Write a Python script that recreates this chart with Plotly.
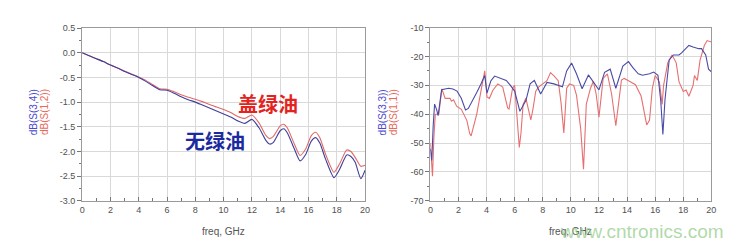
import plotly.graph_objects as go

# ---------------- Left chart: insertion loss ----------------
freq_L = [0, 0.5, 1, 1.5, 2, 2.5, 3, 3.5, 4, 4.5, 5, 5.5, 6, 6.5, 7, 7.5, 8, 8.5, 9, 9.5,
          10, 10.5, 11, 11.5, 12, 12.5, 13, 13.25, 13.5, 14, 14.25, 14.5, 15, 15.4, 15.8,
          16.2, 16.5, 16.8, 17.2, 17.8, 18.2, 18.7, 19, 19.3, 19.7, 20]
s12_red = [0, -0.06, -0.12, -0.18, -0.25, -0.31, -0.37, -0.43, -0.49, -0.56, -0.65, -0.73,
           -0.74, -0.79, -0.85, -0.9, -0.94, -0.99, -1.05, -1.1, -1.15, -1.21, -1.29, -1.33,
           -1.26, -1.42, -1.68, -1.74, -1.70, -1.48, -1.45, -1.52, -1.85, -2.08, -1.95,
           -1.68, -1.61, -1.72, -2.05, -2.42, -2.25, -1.97, -2.0, -2.12, -2.3, -2.28]
s34_blue = [0, -0.06, -0.12, -0.18, -0.25, -0.31, -0.38, -0.44, -0.5, -0.58, -0.67, -0.75,
            -0.76, -0.82, -0.89, -0.95, -1.0, -1.06, -1.12, -1.18, -1.24, -1.3, -1.38, -1.43,
            -1.35, -1.52, -1.78, -1.85, -1.82, -1.58, -1.54, -1.62, -1.95, -2.19, -2.06,
            -1.79, -1.72, -1.83, -2.15, -2.53, -2.36, -2.07, -2.1, -2.22, -2.55, -2.38]

# ---------------- Right chart: return loss ----------------
freq_s33 = [0, 0.1, 0.2, 0.3, 0.45, 0.55, 0.8, 1.0, 1.3, 1.6, 1.9, 2.2, 2.5, 2.7, 3.0, 3.3,
            3.6, 3.87, 4.03, 4.3, 4.57, 5.0, 5.4, 5.7, 6.0, 6.37, 6.8, 7.1, 7.4, 7.85, 8.3,
            8.8, 9.1, 9.4, 9.7, 10.05, 10.4, 10.8, 11.25, 11.6, 12.0, 12.4, 12.8, 13.2, 13.7,
            14.1, 14.4, 14.8, 15.1, 15.6, 15.9, 16.2, 16.4, 16.55, 16.7, 16.85, 17.0, 17.3,
            17.7, 17.9, 18.4, 18.7, 19.1, 19.3, 19.6, 19.8, 20]
s33_blue = [-52, -56, -44, -36.5, -38.5, -40.5, -31.5, -31.2, -31, -31.3, -32, -34.5, -38.5,
            -38, -35.5, -32.5, -29.5, -26.6, -32.7, -28.5, -26.8, -27.5, -28.3, -30, -32, -39,
            -35.3, -29.5, -28.3, -33, -29, -29.5, -30, -30.5, -25, -22.3, -26, -31.2, -26.4,
            -28.8, -31.6, -25.5, -24.4, -31, -23.3, -21.8, -23.8, -26, -26.5, -26, -25.4,
            -26.5, -35.5, -47, -35, -28, -21.2, -19.5, -19.5, -18.7, -16.2, -16.7, -17.3,
            -17.3, -19.5, -24.4, -25.3]

freq_s11 = [0, 0.1, 0.15, 0.25, 0.35, 0.6, 0.82, 1.05, 1.4, 1.5, 1.65, 1.87, 2.2, 2.6, 2.8,
            2.9, 3.3, 3.63, 3.87, 4.03, 4.2, 4.45, 4.8, 5.15, 5.5, 5.6, 5.75, 5.85, 6.0, 6.2,
            6.33, 6.45, 6.6, 6.8, 7.0, 7.15, 7.3, 7.5, 7.7, 7.97, 8.3, 8.55, 8.8, 9.1, 9.3,
            9.5, 9.7, 9.9, 10.2, 10.4, 10.7, 10.9, 11.1, 11.4, 11.6, 11.8, 12.0, 12.3, 12.6,
            12.9, 13.2, 13.6, 13.8, 14.2, 14.6, 15.0, 15.1, 15.4, 15.6, 15.8, 16.0, 16.3,
            16.5, 16.6, 16.9, 17.2, 17.5, 17.7, 18.0, 18.2, 18.4, 18.7, 18.8, 19.0, 19.2,
            19.5, 19.7, 20]
s11_red = [-50, -58, -61.5, -48, -40, -40, -31.2, -34.5, -34.5, -35.5, -35, -37.2, -38.3,
           -42.2, -46.7, -47.5, -40, -31.2, -25, -34, -34.5, -31.7, -29.5, -30.6, -37.8,
           -38.2, -34.5, -31, -30, -42, -51.5, -46.5, -36.6, -34.5, -38.3, -42, -38.3, -32,
           -30.6, -29.5, -28.4, -25.6, -26.7, -28.4, -36, -46.5, -31, -29.5, -30, -33.4, -45,
           -59, -36.5, -31, -28.6, -33, -41, -27.6, -26, -33, -44, -28.2, -27.6, -28.7,
           -29.8, -33.7, -36.5, -43.7, -42, -31, -26.6, -28.8, -36.6, -30, -22.2, -19.5,
           -22.2, -28.8, -32.1, -31.6, -33.8, -30, -26.6, -28.3, -21.2, -16.2, -14.5, -15]

x_ticks = [0, 2, 4, 6, 8, 10, 12, 14, 16, 18, 20]
yL_ticks = [0.5, 0.0, -0.5, -1.0, -1.5, -2.0, -2.5, -3.0]
yR_ticks = [-10, -20, -30, -40, -50, -60, -70]

BLUE_L = "#3f3f9a"
RED_L = "#e06a6a"
BLUE_R = "#4a4aa6"
RED_R = "#e67070"

fig = go.Figure()
fig.add_trace(go.Scatter(x=freq_L, y=s12_red, mode="lines", line=dict(color=RED_L, width=1.1, shape="spline", smoothing=0.6),
                         xaxis="x", yaxis="y", showlegend=False))
fig.add_trace(go.Scatter(x=freq_L, y=s34_blue, mode="lines", line=dict(color=BLUE_L, width=1.1, shape="spline", smoothing=0.6),
                         xaxis="x", yaxis="y", showlegend=False))
fig.add_trace(go.Scatter(x=freq_s11, y=s11_red, mode="lines", line=dict(color=RED_R, width=1.1),
                         xaxis="x2", yaxis="y2", showlegend=False))
fig.add_trace(go.Scatter(x=freq_s33, y=s33_blue, mode="lines", line=dict(color=BLUE_R, width=1.1),
                         xaxis="x2", yaxis="y2", showlegend=False))

W, H = 748, 251
tickfont = dict(family="Liberation Sans, Arial, sans-serif", size=9, color="#505050")
common_x = dict(range=[0, 20], tickvals=x_ticks, ticktext=[str(v) for v in x_ticks],
                showgrid=True, gridcolor="#d9d9d9", gridwidth=1, zeroline=False,
                showline=True, linecolor="#9a9a9a", linewidth=1, mirror=True,
                ticks="inside", ticklen=4, tickcolor="#777", tickfont=tickfont,
                minor=dict(dtick=1, ticks="inside", ticklen=3, tickcolor="#777", showgrid=False),
                fixedrange=True)
common_y = dict(showgrid=True, gridcolor="#d9d9d9", gridwidth=1, zeroline=False,
                showline=True, linecolor="#9a9a9a", linewidth=1, mirror=True,
                ticks="outside", ticklen=4, tickcolor="#777", tickfont=tickfont, fixedrange=True)

fig.update_layout(
    width=W, height=H, margin=dict(l=0, r=0, t=0, b=0),
    paper_bgcolor="white", plot_bgcolor="white",
    xaxis=dict(domain=[80 / W, 366 / W], anchor="y", **common_x),
    yaxis=dict(domain=[1 - 204 / H, 1 - 24 / H], anchor="x", range=[-3.0, 0.5],
               tickvals=yL_ticks, ticktext=[f"{v:.1f}" for v in yL_ticks],
               minor=dict(dtick=0.25, ticks="outside", ticklen=2, tickcolor="#777", showgrid=False),
               **common_y),
    xaxis2=dict(domain=[432 / W, 716 / W], anchor="y2", **common_x),
    yaxis2=dict(domain=[1 - 204 / H, 1 - 23.5 / H], anchor="x2", range=[-70, -10],
                tickvals=yR_ticks, ticktext=[str(v) for v in yR_ticks],
                minor=dict(dtick=5, ticks="outside", ticklen=2, tickcolor="#777", showgrid=False),
                **common_y),
)

lab_font = dict(family="Liberation Sans, Arial, sans-serif", size=10)


def A(text, px, py, font, angle=0):
    return dict(text=text, x=px / W, y=1 - py / H, xref="paper", yref="paper",
                xanchor="center", yanchor="middle", textangle=angle,
                showarrow=False, font=font)


ann = [
    A("freq, GHz", 223, 236, dict(family="Liberation Sans, Arial, sans-serif", size=10, color="#555")),
    A("freq, GHz", 574, 236, dict(family="Liberation Sans, Arial, sans-serif", size=10, color="#555")),
    A("dB(S(3,4))", 31, 112, dict(lab_font, color="#4a4ad0"), -90),
    A("dB(S(1,2))", 42, 112, dict(lab_font, color="#e86a5a"), -90),
    A("dB(S(3,3))", 384, 112, dict(lab_font, color="#4a4ad0"), -90),
    A("dB(S(1,1))", 395, 112, dict(lab_font, color="#e86a5a"), -90),
    A("<b>盖绿油</b>", 268, 103, dict(family="Noto Sans CJK SC", size=20, color="#e3231e")),
    A("<b>无绿油</b>", 214, 141, dict(family="Noto Sans CJK SC", size=20, color="#1b2a9e")),
    A("www.cntronics.com", 646, 236, dict(family="Liberation Sans, Arial, sans-serif", size=19,
                                          color="rgba(150,205,140,0.75)")),
]
fig.update_layout(annotations=ann)

fig.write_html("out.html")
